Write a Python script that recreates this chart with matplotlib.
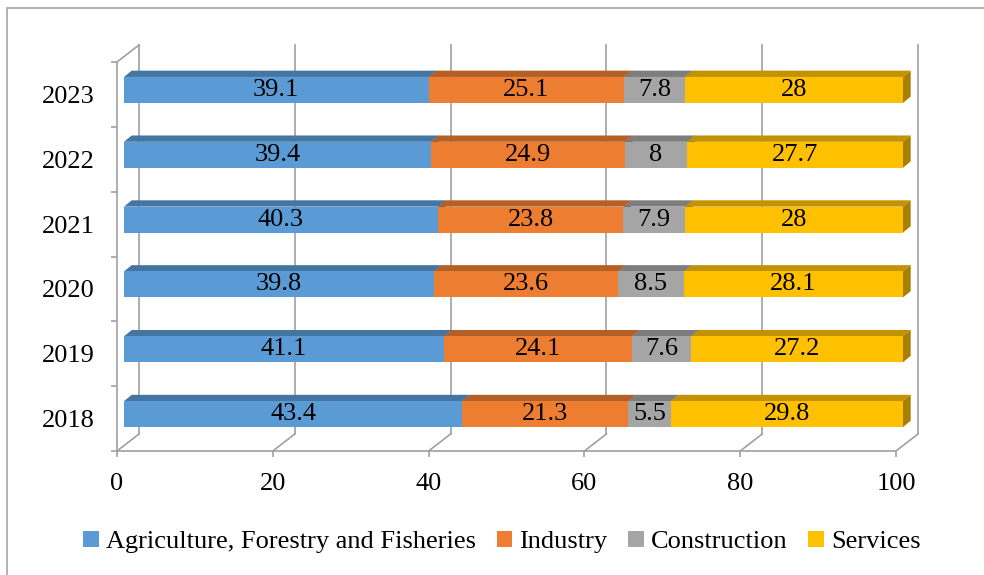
import matplotlib
matplotlib.use('Agg')
import matplotlib.pyplot as plt
from matplotlib.patches import Polygon, Rectangle, Patch
from matplotlib.transforms import offset_copy
import numpy as np

years = ['2018', '2019', '2020', '2021', '2022', '2023']
sectors = ['Agriculture, Forestry and Fisheries', 'Industry', 'Construction', 'Services']
agriculture = [43.4, 41.1, 39.8, 40.3, 39.4, 39.1]
industry = [21.3, 24.1, 23.6, 23.8, 24.9, 25.1]
construction = [5.5, 7.6, 8.5, 7.9, 8.0, 7.8]
services = [29.8, 27.2, 28.1, 28.0, 27.7, 28.0]
xticks = [0, 20, 40, 60, 80, 100]

colors = ['#5b9bd5', '#ed7d31', '#a5a5a5', '#ffc000']


def shade(c, f):
    rgb = np.array(matplotlib.colors.to_rgb(c))
    return tuple(rgb * f)


plt.rcParams['font.family'] = ['Liberation Serif', 'DejaVu Serif']
W, H = 984, 575
FS = 19
fig = plt.figure(figsize=(W / 100, H / 100), dpi=100)

# outer chart border (only left and top edges visible)
fig.patches.append(Rectangle((7 / W, -0.1), 1.5, 1 - 8 / H + 0.1, transform=fig.transFigure,
                             fill=False, edgecolor='#a6a6a6', lw=1.2))

# front plane of the 3D box in pixels
x0, x1, ytop, ybot = 117, 896, 62, 451
ax = fig.add_axes([x0 / W, (H - ybot) / H, (x1 - x0) / W, (ybot - ytop) / H])
ax.set_xlim(0, 100)
ax.set_ylim(-0.5, len(years) - 0.5)
ax.patch.set_visible(False)

grid_c = '#a0a0a0'
for s in ['top', 'right']:
    ax.spines[s].set_visible(False)
for s in ['left', 'bottom']:
    ax.spines[s].set_color(grid_c)
    ax.spines[s].set_linewidth(1.2)

# data units per pixel
ux = 100 / (x1 - x0)
uy = len(years) / (ybot - ytop)

# back wall gridlines and floor diagonals
depth_x, depth_y = 22, 17
back = offset_copy(ax.transData, fig=fig, x=depth_x, y=depth_y, units='dots')
for v in xticks:
    ax.plot([v, v], [-0.5, len(years) - 0.5], color=grid_c, lw=1.2, transform=back, clip_on=False, zorder=1)
    ax.plot([v, v + depth_x * ux], [-0.5, -0.5 + depth_y * uy], color=grid_c, lw=1.2, clip_on=False, zorder=1)
# left wall top diagonal
ax.plot([0, depth_x * ux], [len(years) - 0.5, len(years) - 0.5 + depth_y * uy], color=grid_c, lw=1.2,
        clip_on=False, zorder=1)

# bars with top and side faces
front = offset_copy(ax.transData, fig=fig, x=7, y=4.5, units='dots')
bar_h = 0.4
dx, dy = 7.7 * ux, 6.3 * uy
series = [agriculture, industry, construction, services]
y = np.arange(len(years))
left = np.zeros(len(years))
for vals, c in zip(series, colors):
    vals = np.array(vals)
    for yi, l, w in zip(y, left, vals):
        top = Polygon([(l, yi + bar_h / 2), (l + w, yi + bar_h / 2),
                       (l + w + dx, yi + bar_h / 2 + dy), (l + dx, yi + bar_h / 2 + dy)],
                      closed=True, facecolor=shade(c, 0.76), edgecolor='none',
                      transform=front, clip_on=False, zorder=3)
        ax.add_patch(top)
        side = Polygon([(l + w, yi - bar_h / 2), (l + w + dx, yi - bar_h / 2 + dy),
                        (l + w + dx, yi + bar_h / 2 + dy), (l + w, yi + bar_h / 2)],
                       closed=True, facecolor=shade(c, 0.66), edgecolor='none',
                       transform=front, clip_on=False, zorder=3)
        ax.add_patch(side)
    ax.barh(y, vals, left=left, height=bar_h, color=c, edgecolor='none',
            transform=front, clip_on=False, zorder=4)
    for yi, l, w in zip(y, left, vals):
        ax.text(l + w / 2, yi, f'{w:g}', ha='center', va='center', fontsize=FS,
                transform=front, zorder=5)
    left = left + vals

# ticks
ax.set_xticks(xticks)
ax.set_xticklabels([str(v) for v in xticks], fontsize=FS)
ax.tick_params(axis='x', length=4.5, width=1.2, color=grid_c, pad=11)
ax.set_yticks(y)
ax.set_yticklabels(years, fontsize=FS)
ax.tick_params(axis='y', which='major', length=0, pad=16)
ax.set_yticks(np.arange(-0.5, len(years)), minor=True)
ax.tick_params(axis='y', which='minor', length=4.5, width=1.2, color=grid_c)

# legend
handles = [Patch(facecolor=c, edgecolor='none') for c in colors]
fig.legend(handles, sectors, loc='center', bbox_to_anchor=(0.51, 1 - 542 / H), ncol=4,
           frameon=False, fontsize=FS, handlelength=0.6, handleheight=0.6,
           handletextpad=0.25, columnspacing=0.8)

fig.savefig('out.png', dpi=100)
